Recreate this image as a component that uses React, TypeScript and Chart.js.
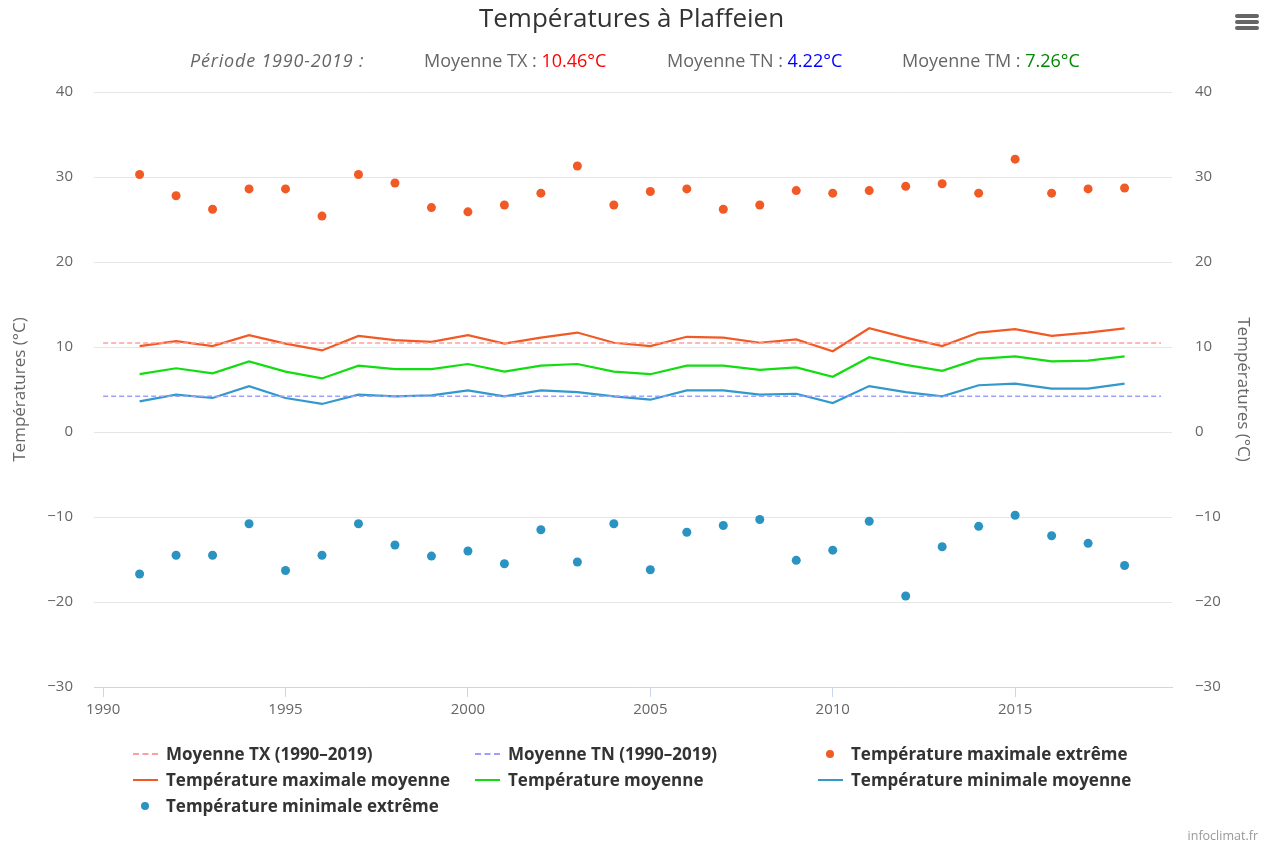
import React, { useEffect, useRef } from "react";
import { Chart, registerables } from "chart.js";

Chart.register(...registerables);

// ---- Data ----
const years = [1991, 1992, 1993, 1994, 1995, 1996, 1997, 1998, 1999, 2000, 2001, 2002, 2003, 2004, 2005, 2006, 2007, 2008, 2009, 2010, 2011, 2012, 2013, 2014, 2015, 2016, 2017, 2018];
const maxExtreme = [30.3, 27.8, 26.2, 28.6, 28.6, 25.4, 30.3, 29.3, 26.4, 25.9, 26.7, 28.1, 31.3, 26.7, 28.3, 28.6, 26.2, 26.7, 28.4, 28.1, 28.4, 28.9, 29.2, 28.1, 32.1, 28.1, 28.6, 28.7];
const maxMean = [10.1, 10.7, 10.1, 11.4, 10.4, 9.6, 11.3, 10.8, 10.6, 11.4, 10.4, 11.1, 11.7, 10.5, 10.1, 11.2, 11.1, 10.5, 10.9, 9.5, 12.2, 11.1, 10.1, 11.7, 12.1, 11.3, 11.7, 12.2];
const meanTemp = [6.8, 7.5, 6.9, 8.3, 7.1, 6.3, 7.8, 7.4, 7.4, 8.0, 7.1, 7.8, 8.0, 7.1, 6.8, 7.8, 7.8, 7.3, 7.6, 6.5, 8.8, 7.9, 7.2, 8.6, 8.9, 8.3, 8.4, 8.9];
const minMean = [3.6, 4.4, 4.0, 5.4, 4.0, 3.3, 4.4, 4.2, 4.3, 4.9, 4.2, 4.9, 4.7, 4.2, 3.8, 4.9, 4.9, 4.4, 4.5, 3.4, 5.4, 4.7, 4.2, 5.5, 5.7, 5.1, 5.1, 5.7];
const minExtreme = [-16.7, -14.5, -14.5, -10.8, -16.3, -14.5, -10.8, -13.3, -14.6, -14.0, -15.5, -11.5, -15.3, -10.8, -16.2, -11.8, -11.0, -10.3, -15.1, -13.9, -10.5, -19.3, -13.5, -11.1, -9.8, -12.2, -13.1, -15.7];
const periodYears = [1990, 2019];
const meanTX = 10.46;
const meanTN = 4.22;
const meanTM = 7.26;
const xTicks = [1990, 1995, 2000, 2005, 2010, 2015];
const yTicks = [-30, -20, -10, 0, 10, 20, 30, 40];

const labels = {
  meanTX: "Moyenne TX (1990–2019)",
  meanTN: "Moyenne TN (1990–2019)",
  maxExtreme: "Température maximale extrême",
  maxMean: "Température maximale moyenne",
  meanTemp: "Température moyenne",
  minMean: "Température minimale moyenne",
  minExtreme: "Température minimale extrême",
};

const colors = {
  tx: "#ff9e9e",
  tn: "#9e9eff",
  red: "#f15a24",
  green: "#11dd11",
  blueLine: "#3399cc",
  blueDot: "#2a93c2",
};

const FONT = "'Open Sans', 'DejaVu Sans', sans-serif";

const pts = (vals: number[]) => years.map((y, i) => ({ x: y, y: vals[i] }));
const flat = (v: number) => periodYears.map((y) => ({ x: y, y: v }));

const legendItems = [
  { label: labels.meanTX, color: colors.tx, kind: "dash" },
  { label: labels.meanTN, color: colors.tn, kind: "dash" },
  { label: labels.maxExtreme, color: colors.red, kind: "dot" },
  { label: labels.maxMean, color: colors.red, kind: "line" },
  { label: labels.meanTemp, color: colors.green, kind: "line" },
  { label: labels.minMean, color: colors.blueLine, kind: "line" },
  { label: labels.minExtreme, color: colors.blueDot, kind: "dot" },
];

const tickFmt = (v: any) => (v < 0 ? "−" + Math.abs(v) : String(v));

export default function App() {
  const ref = useRef<HTMLCanvasElement | null>(null);

  useEffect(() => {
    if (!ref.current) return;
    const chart = new Chart(ref.current, {
      type: "line",
      data: {
        datasets: [
          { label: labels.meanTX, data: flat(meanTX), borderColor: colors.tx, borderWidth: 1.5, borderDash: [5, 3], pointRadius: 0, yAxisID: "y" },
          { label: labels.meanTN, data: flat(meanTN), borderColor: colors.tn, borderWidth: 1.5, borderDash: [5, 3], pointRadius: 0, yAxisID: "y" },
          { label: labels.maxExtreme, data: pts(maxExtreme), showLine: false, pointRadius: 4.5, pointBackgroundColor: colors.red, pointBorderWidth: 0, borderColor: colors.red, yAxisID: "y" },
          { label: labels.maxMean, data: pts(maxMean), borderColor: colors.red, borderWidth: 2.2, pointRadius: 0, yAxisID: "y" },
          { label: labels.meanTemp, data: pts(meanTemp), borderColor: colors.green, borderWidth: 2.2, pointRadius: 0, yAxisID: "y" },
          { label: labels.minMean, data: pts(minMean), borderColor: colors.blueLine, borderWidth: 2.2, pointRadius: 0, yAxisID: "y" },
          { label: labels.minExtreme, data: pts(minExtreme), showLine: false, pointRadius: 4.5, pointBackgroundColor: colors.blueDot, pointBorderWidth: 0, borderColor: colors.blueDot, yAxisID: "y" },
        ],
      },
      options: {
        responsive: false,
        animation: false,
        devicePixelRatio: 1,
        layout: { padding: { top: 92, left: 0, right: 0, bottom: 0 } },
        plugins: { legend: { display: false }, tooltip: { enabled: false }, title: { display: false } },
        scales: {
          x: {
            type: "linear",
            min: 1989.75,
            max: 2019.3,
            afterBuildTicks: (s: any) => { s.ticks = xTicks.map((v) => ({ value: v })); },
            afterFit: (s: any) => { s.height = 158; },
            grid: { display: true, drawOnChartArea: false, drawTicks: true, tickLength: 10, tickColor: "#ccd6eb", color: "#ccd6eb" },
            border: { display: true, color: "#ccd6eb", width: 1 },
            ticks: { color: "#666", font: { family: FONT, size: 15 }, padding: 4, maxRotation: 0, autoSkip: false, callback: (v: any) => String(v) },
          },
          y: {
            position: "left",
            min: -30,
            max: 40,
            afterBuildTicks: (s: any) => { s.ticks = yTicks.map((v) => ({ value: v })); },
            afterFit: (s: any) => { s.width = 94; },
            grid: { color: "#e6e6e6", drawTicks: false },
            border: { display: false },
            ticks: { color: "#666", font: { family: FONT, size: 15 }, padding: 21, callback: tickFmt },
            title: { display: true, text: "Températures (°C)", color: "#666", font: { family: FONT, size: 17 }, padding: { top: 10, bottom: 0 } },
          },
          y2: {
            position: "right",
            min: -30,
            max: 40,
            afterBuildTicks: (s: any) => { s.ticks = yTicks.map((v) => ({ value: v })); },
            afterFit: (s: any) => { s.width = 91; },
            grid: { drawOnChartArea: false, drawTicks: false },
            border: { display: false },
            ticks: { color: "#666", font: { family: FONT, size: 15 }, padding: 23, callback: tickFmt },
            title: { display: true, text: "Températures (°C)", color: "#666", font: { family: FONT, size: 17 }, padding: { top: 10, bottom: 0 } },
          },
        },
      },
    } as any);
    return () => chart.destroy();
  }, []);

  const cols = [133, 475, 818];
  const rows = [754, 780, 806];

  return (
    <div style={{ position: "fixed", left: 0, top: 0, width: 1263, height: 845, background: "#fff", overflow: "hidden" }}>
      <canvas ref={ref} width={1263} height={845} style={{ position: "absolute", left: 0, top: 0, width: 1263, height: 845 }} />
      <div style={{ position: "absolute", left: 0, width: 1263, top: 1, textAlign: "center", fontFamily: FONT, fontSize: 26, color: "#333", lineHeight: "32px" }}>
        Températures à Plaffeien
      </div>
      <div style={{ position: "absolute", top: 49, left: 0, width: 1263, height: 22, fontFamily: FONT, fontSize: 18, color: "#666", lineHeight: "22px", whiteSpace: "nowrap" }}>
        <span style={{ position: "absolute", left: 190, fontStyle: "italic", letterSpacing: 0.8 }}>Période 1990-2019 :</span>
        <span style={{ position: "absolute", left: 424 }}>Moyenne TX : <span style={{ color: "#ff0000" }}>{meanTX.toFixed(2)}°C</span></span>
        <span style={{ position: "absolute", left: 667 }}>Moyenne TN : <span style={{ color: "#0000ff" }}>{meanTN.toFixed(2)}°C</span></span>
        <span style={{ position: "absolute", left: 902 }}>Moyenne TM : <span style={{ color: "#008800" }}>{meanTM.toFixed(2)}°C</span></span>
      </div>
      <div style={{ position: "absolute", left: 1235, top: 14 }}>
        {[0, 6, 12].map((t) => (
          <div key={t} style={{ position: "absolute", left: 0, top: t, width: 24, height: 3.5, borderRadius: 2, background: "#666" }} />
        ))}
      </div>
      {legendItems.map((it, i) => {
        const c = i % 3;
        const r = Math.floor(i / 3);
        const x = cols[c];
        const y = rows[r];
        return (
          <div key={i} style={{ position: "absolute", left: x, top: y - 11, height: 22, width: 340, whiteSpace: "nowrap" }}>
            {it.kind === "dot" ? (
              <div style={{ position: "absolute", left: 8, top: 7, width: 8, height: 8, borderRadius: 4, background: it.color }} />
            ) : it.kind === "line" ? (
              <div style={{ position: "absolute", left: 0, top: 10, width: 25, height: 2, background: it.color }} />
            ) : (
              <div style={{ position: "absolute", left: 0, top: 10, width: 25, height: 0, borderTop: `2px dashed ${it.color}` }} />
            )}
            <span style={{ position: "absolute", left: 33, top: 0, lineHeight: "22px", fontFamily: FONT, fontWeight: 700, fontSize: 17, color: "#333" }}>{it.label}</span>
          </div>
        );
      })}
      <div style={{ position: "absolute", right: 5, top: 827, fontFamily: FONT, fontSize: 12.5, color: "#999" }}>infoclimat.fr</div>
    </div>
  );
}
